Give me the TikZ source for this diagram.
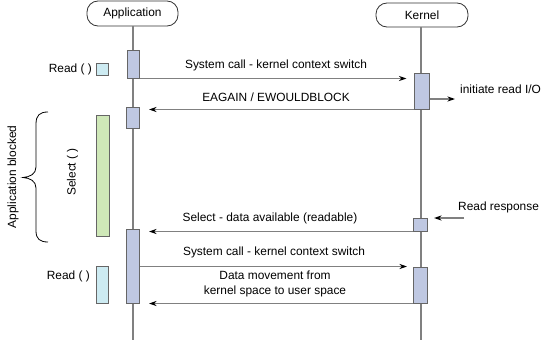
\documentclass[tikz,border=0pt]{standalone}
\usepackage{fontspec}
\setmainfont{Liberation Sans}
\usetikzlibrary{arrows.meta,calc}
\definecolor{linegray}{HTML}{808080}
\definecolor{actfill}{HTML}{BFC8E2}
\definecolor{cyanfill}{HTML}{CDEBF2}
\definecolor{greenfill}{HTML}{CFE8B8}
\definecolor{edgegray}{HTML}{666666}
\tikzset{
  every node/.style={font=\fontsize{11.9}{14.5}\selectfont},
  actor/.style={draw=black!80, line width=0.8pt, rounded corners=11pt, fill=white, inner sep=0pt},
  life/.style={draw=linegray, line width=1.5pt},
  act/.style={draw=edgegray, line width=1pt, fill=actfill, inner sep=0pt},
  cyanbar/.style={draw=edgegray, line width=1pt, fill=cyanfill, inner sep=0pt},
  greenbar/.style={draw=edgegray, line width=1pt, fill=greenfill, inner sep=0pt},
  msg/.style={draw=linegray, line width=1.5pt, -{Stealth[length=7.5pt,width=5pt,black]}},
  lbl/.style={inner sep=0pt, text=black},
}
\begin{document}
\begin{tikzpicture}[x=1pt,y=-1pt]
\useasboundingbox (0,0) rectangle (541,340);

% actors
\node[actor, minimum width=91pt, minimum height=25pt] (app) at (132.5,13.5) {Application};
\node[actor, minimum width=92pt, minimum height=24pt] (ker) at (422,15) {Kernel};
\coordinate (append) at (133,340);
\coordinate (kerend) at (421,340);
\draw[life] (app.south -| append) -- (append);
\draw[life] (ker.south -| kerend) -- (kerend);

% activations
\node[act, minimum width=12pt, minimum height=28pt] (a1) at (133,64) {};
\node[act, minimum width=13pt, minimum height=21pt] (a2) at (133,117.5) {};
\node[act, minimum width=13pt, minimum height=74pt] (a3) at (133,266) {};
\node[act, minimum width=15pt, minimum height=36pt] (k1) at (421.5,91) {};
\node[act, minimum width=14pt, minimum height=13pt] (k2) at (420.5,224.5) {};
\node[act, minimum width=14pt, minimum height=36pt] (k3) at (420.5,285) {};

% left-hand bars
\node[cyanbar, minimum width=12pt, minimum height=12pt] (r1) at (102,69) {};
\node[greenbar, minimum width=13pt, minimum height=121pt] (sel) at (102.5,175.5) {};
\node[cyanbar, minimum width=12pt, minimum height=37pt] (r2) at (102,284.5) {};

% free ends
\coordinate (io) at (455,99);
\coordinate (rr) at (464,218);

% messages
\draw[msg] (a1.south east) -- ($(k1.west |- a1.south east)+(-7,0)$);
\draw[msg] (k1.south west) -- ($(a2.east |- k1.south west)+(9,0)$);
\draw[msg] (k1.east |- io) -- (io);
\draw[msg] (rr) -- ($(k2.east |- rr)+(6,0)$);
\draw[msg] (k2.south west) -- ($(a3.east |- k2.south west)+(9,0)$);
\draw[msg] (a3.east |- k3.north west) -- ($(k3.north west)+(-6,0)$);
\draw[msg] (k3.south west) -- ($(a3.south east)+(9,0)$);

% labels
\node[lbl] (t1) at (276,65) {System call - kernel context switch};
\node[lbl] (t2) at (276,97) {EAGAIN / EWOULDBLOCK};
\node[lbl, anchor=west] (t3) at (460,89) {initiate read I/O};
\node[lbl, anchor=west] (t4) at (458,207) {Read response};
\node[lbl] (t5) at (270,218) {Select - data available (readable)};
\node[lbl] (t6) at (274,252) {System call - kernel context switch};
\node[lbl, align=center] (t7) at (275,284) {Data movement from\\kernel space to user space};
\node[lbl, anchor=east] (t8) at (92,69) {Read ( )};
\node[lbl, anchor=east] (t9) at (90,276) {Read ( )};
\node[lbl, rotate=90] (t10) at (72.5,172) {Select ( )};
\node[lbl, rotate=90] (t11) at (13,177) {Application blocked};

% brace
\draw[black, line width=0.8pt] (48,112) .. controls (40,112) and (36,115) .. (36,124) -- (36,167)
  .. controls (36,174) and (30,177) .. (23,177.5) .. controls (30,178) and (36,181) .. (36,188)
  -- (36,231) .. controls (36,239) and (40,242) .. (48,242);
\end{tikzpicture}
\end{document}
